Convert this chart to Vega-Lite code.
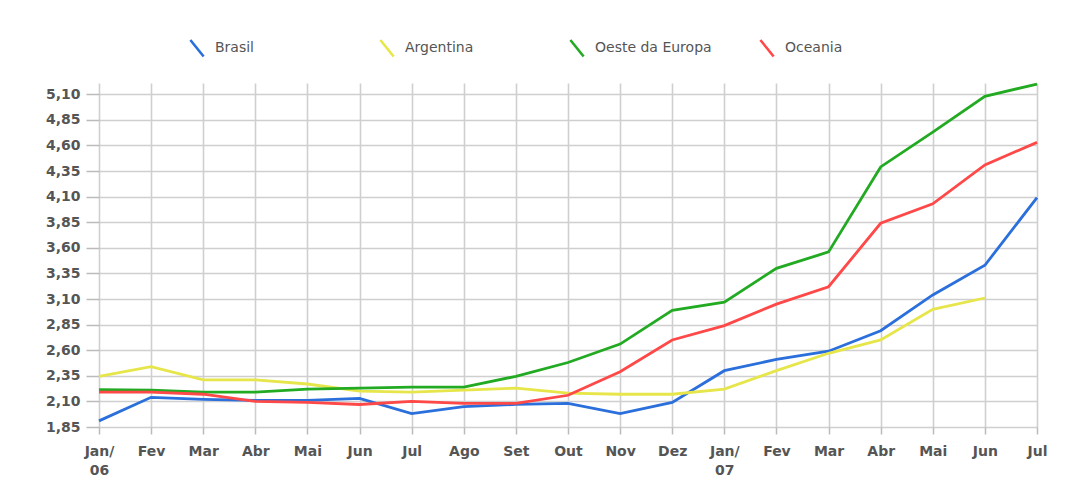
{
  "$schema": "https://vega.github.io/schema/vega-lite/v6.json",
  "width": 938,
  "height": 344,
  "autosize": {"type": "none"},
  "padding": {"left": 99, "top": 83, "right": 39, "bottom": 57},
  "background": "white",
  "config": {
    "view": {"stroke": null},
    "font": "DejaVu Sans"
  },
  "data": {
    "values": [
      {"mes": "Jan/06", "serie": "Brasil", "valor": 1.91},
      {"mes": "Fev/06", "serie": "Brasil", "valor": 2.14},
      {"mes": "Mar/06", "serie": "Brasil", "valor": 2.12},
      {"mes": "Abr/06", "serie": "Brasil", "valor": 2.11},
      {"mes": "Mai/06", "serie": "Brasil", "valor": 2.11},
      {"mes": "Jun/06", "serie": "Brasil", "valor": 2.13},
      {"mes": "Jul/06", "serie": "Brasil", "valor": 1.98},
      {"mes": "Ago/06", "serie": "Brasil", "valor": 2.05},
      {"mes": "Set/06", "serie": "Brasil", "valor": 2.07},
      {"mes": "Out/06", "serie": "Brasil", "valor": 2.08},
      {"mes": "Nov/06", "serie": "Brasil", "valor": 1.98},
      {"mes": "Dez/06", "serie": "Brasil", "valor": 2.09},
      {"mes": "Jan/07", "serie": "Brasil", "valor": 2.40},
      {"mes": "Fev/07", "serie": "Brasil", "valor": 2.51},
      {"mes": "Mar/07", "serie": "Brasil", "valor": 2.59},
      {"mes": "Abr/07", "serie": "Brasil", "valor": 2.79},
      {"mes": "Mai/07", "serie": "Brasil", "valor": 3.14},
      {"mes": "Jun/07", "serie": "Brasil", "valor": 3.43},
      {"mes": "Jul/07", "serie": "Brasil", "valor": 4.09},
      {"mes": "Jan/06", "serie": "Argentina", "valor": 2.345},
      {"mes": "Fev/06", "serie": "Argentina", "valor": 2.44},
      {"mes": "Mar/06", "serie": "Argentina", "valor": 2.31},
      {"mes": "Abr/06", "serie": "Argentina", "valor": 2.31},
      {"mes": "Mai/06", "serie": "Argentina", "valor": 2.27},
      {"mes": "Jun/06", "serie": "Argentina", "valor": 2.20},
      {"mes": "Jul/06", "serie": "Argentina", "valor": 2.19},
      {"mes": "Ago/06", "serie": "Argentina", "valor": 2.21},
      {"mes": "Set/06", "serie": "Argentina", "valor": 2.23},
      {"mes": "Out/06", "serie": "Argentina", "valor": 2.18},
      {"mes": "Nov/06", "serie": "Argentina", "valor": 2.17},
      {"mes": "Dez/06", "serie": "Argentina", "valor": 2.17},
      {"mes": "Jan/07", "serie": "Argentina", "valor": 2.22},
      {"mes": "Fev/07", "serie": "Argentina", "valor": 2.40},
      {"mes": "Mar/07", "serie": "Argentina", "valor": 2.57},
      {"mes": "Abr/07", "serie": "Argentina", "valor": 2.70},
      {"mes": "Mai/07", "serie": "Argentina", "valor": 3.00},
      {"mes": "Jun/07", "serie": "Argentina", "valor": 3.11},
      {"mes": "Jan/06", "serie": "Oeste da Europa", "valor": 2.215},
      {"mes": "Fev/06", "serie": "Oeste da Europa", "valor": 2.21},
      {"mes": "Mar/06", "serie": "Oeste da Europa", "valor": 2.19},
      {"mes": "Abr/06", "serie": "Oeste da Europa", "valor": 2.19},
      {"mes": "Mai/06", "serie": "Oeste da Europa", "valor": 2.22},
      {"mes": "Jun/06", "serie": "Oeste da Europa", "valor": 2.23},
      {"mes": "Jul/06", "serie": "Oeste da Europa", "valor": 2.24},
      {"mes": "Ago/06", "serie": "Oeste da Europa", "valor": 2.24},
      {"mes": "Set/06", "serie": "Oeste da Europa", "valor": 2.345},
      {"mes": "Out/06", "serie": "Oeste da Europa", "valor": 2.48},
      {"mes": "Nov/06", "serie": "Oeste da Europa", "valor": 2.66},
      {"mes": "Dez/06", "serie": "Oeste da Europa", "valor": 2.99},
      {"mes": "Jan/07", "serie": "Oeste da Europa", "valor": 3.07},
      {"mes": "Fev/07", "serie": "Oeste da Europa", "valor": 3.40},
      {"mes": "Mar/07", "serie": "Oeste da Europa", "valor": 3.56},
      {"mes": "Abr/07", "serie": "Oeste da Europa", "valor": 4.39},
      {"mes": "Mai/07", "serie": "Oeste da Europa", "valor": 4.73},
      {"mes": "Jun/07", "serie": "Oeste da Europa", "valor": 5.08},
      {"mes": "Jul/07", "serie": "Oeste da Europa", "valor": 5.20},
      {"mes": "Jan/06", "serie": "Oceania", "valor": 2.19},
      {"mes": "Fev/06", "serie": "Oceania", "valor": 2.19},
      {"mes": "Mar/06", "serie": "Oceania", "valor": 2.17},
      {"mes": "Abr/06", "serie": "Oceania", "valor": 2.10},
      {"mes": "Mai/06", "serie": "Oceania", "valor": 2.09},
      {"mes": "Jun/06", "serie": "Oceania", "valor": 2.07},
      {"mes": "Jul/06", "serie": "Oceania", "valor": 2.10},
      {"mes": "Ago/06", "serie": "Oceania", "valor": 2.08},
      {"mes": "Set/06", "serie": "Oceania", "valor": 2.08},
      {"mes": "Out/06", "serie": "Oceania", "valor": 2.16},
      {"mes": "Nov/06", "serie": "Oceania", "valor": 2.39},
      {"mes": "Dez/06", "serie": "Oceania", "valor": 2.70},
      {"mes": "Jan/07", "serie": "Oceania", "valor": 2.84},
      {"mes": "Fev/07", "serie": "Oceania", "valor": 3.05},
      {"mes": "Mar/07", "serie": "Oceania", "valor": 3.22},
      {"mes": "Abr/07", "serie": "Oceania", "valor": 3.84},
      {"mes": "Mai/07", "serie": "Oceania", "valor": 4.03},
      {"mes": "Jun/07", "serie": "Oceania", "valor": 4.41},
      {"mes": "Jul/07", "serie": "Oceania", "valor": 4.63}
    ]
  },
  "mark": {"type": "line", "strokeWidth": 2.8, "clip": false},
  "encoding": {
    "x": {
      "field": "mes",
      "type": "ordinal",
      "sort": null,
      "scale": {"type": "point", "padding": 0},
      "axis": {
        "title": null,
        "labelAngle": 0,
        "labelExpr": "indexof(datum.value, 'Jan') == 0 ? ['Jan/', substring(datum.value, 4)] : substring(datum.value, 0, 3)",
        "labelFont": "DejaVu Sans",
        "labelFontSize": 14,
        "labelFontWeight": "bold",
        "labelColor": "#555555",
        "labelLineHeight": 19,
        "labelPadding": 10,
        "labelBaseline": "top",
        "tickSize": 7,
        "tickColor": "#bbbbbb",
        "tickWidth": 1.5,
        "domain": false,
        "grid": true,
        "gridColor": "#cfcfcf",
        "gridWidth": 1.6
      }
    },
    "y": {
      "field": "valor",
      "type": "quantitative",
      "scale": {"domain": [1.85, 5.21], "nice": false, "zero": false},
      "axis": {
        "title": null,
        "values": [1.85, 2.1, 2.35, 2.6, 2.85, 3.1, 3.35, 3.6, 3.85, 4.1, 4.35, 4.6, 4.85, 5.1],
        "labelExpr": "replace(format(datum.value, '.2f'), '.', ',')",
        "labelFont": "DejaVu Sans",
        "labelFontSize": 14,
        "labelFontWeight": "bold",
        "labelColor": "#555555",
        "labelPadding": 6,
        "tickSize": 13,
        "tickColor": "#bbbbbb",
        "tickWidth": 1.5,
        "domain": false,
        "grid": true,
        "gridColor": "#cfcfcf",
        "gridWidth": 1.6
      }
    },
    "color": {
      "field": "serie",
      "type": "nominal",
      "scale": {
        "domain": ["Brasil", "Argentina", "Oeste da Europa", "Oceania"],
        "range": ["#2a6fdb", "#e6e64a", "#22aa22", "#ff4848"]
      },
      "legend": {
        "title": null,
        "orient": "none",
        "legendX": 80,
        "legendY": -53,
        "direction": "horizontal",
        "gridAlign": "all",
        "columnPadding": 37,
        "symbolType": "M-0.4,-0.5L0.4,0.5",
        "symbolSize": 1100,
        "symbolStrokeWidth": 2.6,
        "labelFont": "DejaVu Sans",
        "labelFontSize": 14,
        "labelColor": "#555555",
        "labelOffset": 0
      }
    }
  }
}
